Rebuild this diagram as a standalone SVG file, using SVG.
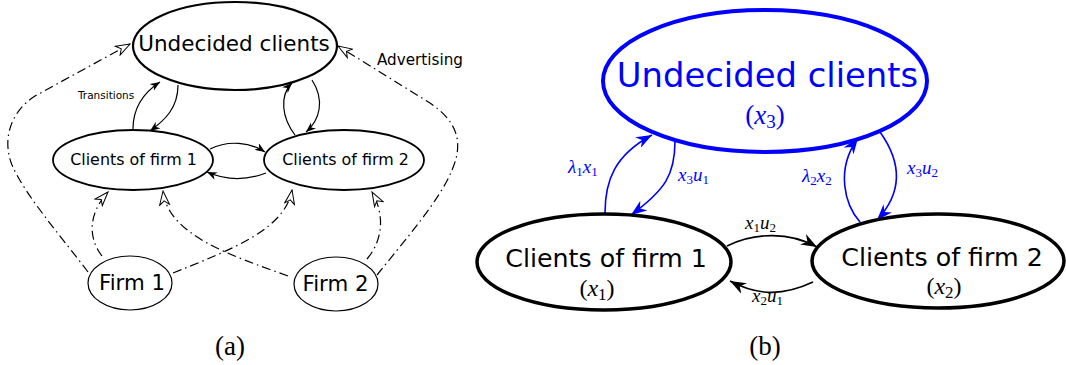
<svg xmlns="http://www.w3.org/2000/svg" width="1066" height="365" viewBox="0 0 1066 365">
<style>
.sans{font-family:"DejaVu Sans","Liberation Sans",sans-serif;fill:#000}
.ser{font-family:"Liberation Serif","DejaVu Serif",serif;fill:#000}
.i{font-style:italic}
.blue{fill:#0000ff}
.nodeA{fill:#fff;stroke:#000}
.conA{fill:none;stroke:#000;stroke-width:1.2}
.adv{fill:none;stroke:#000;stroke-width:1.2;stroke-dasharray:9 4 1.5 4}
.conB{fill:none;stroke:#000;stroke-width:1.6}
.conBb{fill:none;stroke:#0000ff;stroke-width:1.6}
.lbl{font-size:19px}
.sb{font-size:13px}
</style>
<defs>
<marker id="smallA" viewBox="0 0 10 8" refX="10" refY="4" markerWidth="10" markerHeight="8" markerUnits="userSpaceOnUse" orient="auto">
<path d="M10,4 L0,0 L3,4 L0,8 Z" fill="#000"/>
</marker>
<marker id="openA" viewBox="-1 -1 16 12" refX="14" refY="5" markerWidth="16" markerHeight="12" markerUnits="userSpaceOnUse" orient="auto">
<path d="M14,5 L0,0 L4,5 L0,10 Z" fill="#fff" stroke="#000" stroke-width="1"/>
</marker>
<marker id="stB" viewBox="0 0 16 12" refX="16" refY="6" markerWidth="16" markerHeight="12" markerUnits="userSpaceOnUse" orient="auto">
<path d="M16,6 L0,0 L5,6 L0,12 Z" fill="#000"/>
</marker>
<marker id="stBlue" viewBox="0 0 16 12" refX="16" refY="6" markerWidth="16" markerHeight="12" markerUnits="userSpaceOnUse" orient="auto">
<path d="M16,6 L0,0 L5,6 L0,12 Z" fill="#0000ff"/>
</marker>
</defs>

<g id="connectors">
<!-- panel (a) transitions -->
<path class="conA" d="M133,129 C133,108 143,93 160,82" marker-end="url(#smallA)"/>
<path class="conA" d="M178,85 C178,108 165,120 150,131" marker-end="url(#smallA)"/>
<path class="conA" d="M295,135 C282,118 279,96 292,83" marker-end="url(#smallA)"/>
<path class="conA" d="M312,80 C325,100 320,120 306,132" marker-end="url(#smallA)"/>
<path class="conA" d="M210,149 C228,140 250,142 265,152" marker-end="url(#smallA)"/>
<path class="conA" d="M266,173 C245,181 225,180 207,172" marker-end="url(#smallA)"/>
<!-- panel (a) advertising -->
<path class="adv" d="M88,272 C60,235 25,195 12,165 C2,140 10,112 35,96 L130,44" marker-end="url(#openA)"/>
<path class="adv" d="M377,275 C405,240 440,200 452,170 C465,140 455,120 430,103 L338,46" marker-end="url(#openA)"/>
<path class="adv" d="M102,256 C88,238 88,214 108,192" marker-end="url(#openA)"/>
<path class="adv" d="M173,273 C230,250 285,230 292,190" marker-end="url(#openA)"/>
<path class="adv" d="M288,276 C230,255 168,235 163,191" marker-end="url(#openA)"/>
<path class="adv" d="M367,259 C383,240 385,215 372,192" marker-end="url(#openA)"/>
<!-- panel (b) -->
<path class="conBb" d="M605,213 C605,180 615,155 652,135" marker-end="url(#stBlue)"/>
<path class="conBb" d="M675,141 C675,175 665,190 631,215" marker-end="url(#stBlue)"/>
<path class="conBb" d="M860,222 C845,205 835,170 858,138" marker-end="url(#stBlue)"/>
<path class="conBb" d="M880,132 C900,160 905,190 877,220" marker-end="url(#stBlue)"/>
<path class="conB" d="M727,246 C755,232 790,232 817,247" marker-end="url(#stB)"/>
<path class="conB" d="M813,282 C785,295 760,297 730,281" marker-end="url(#stB)"/>
</g>

<g id="undecidedA">
<ellipse class="nodeA" cx="235" cy="46" rx="102" ry="44" stroke-width="2.2"/>
<text class="sans" x="234" y="51" font-size="21.5" text-anchor="middle">Undecided clients</text>
</g>
<g id="clients1A">
<ellipse class="nodeA" cx="133" cy="160" rx="80" ry="30" stroke-width="1.8"/>
<text class="sans" x="133.5" y="165" font-size="15.9" text-anchor="middle">Clients of firm 1</text>
</g>
<g id="clients2A">
<ellipse class="nodeA" cx="344" cy="160" rx="80" ry="30" stroke-width="1.8"/>
<text class="sans" x="345.5" y="165" font-size="15.9" text-anchor="middle">Clients of firm 2</text>
</g>
<g id="firm1A">
<ellipse class="nodeA" cx="130" cy="283" rx="42" ry="27" stroke-width="1.2"/>
<text class="sans" x="132" y="290" font-size="21.3" text-anchor="middle">Firm 1</text>
</g>
<g id="firm2A">
<ellipse class="nodeA" cx="336" cy="284" rx="42" ry="27" stroke-width="1.2"/>
<text class="sans" x="335.5" y="291" font-size="21.3" text-anchor="middle">Firm 2</text>
</g>
<g id="labelsA">
<text class="sans" x="377" y="65" font-size="15.2">Advertising</text>
<text class="sans" x="78" y="99" font-size="10.5">Transitions</text>
<text class="ser" x="230" y="355" font-size="27" text-anchor="middle">(a)</text>
</g>

<g id="undecidedB">
<ellipse cx="765" cy="81" rx="162" ry="71" fill="#fff" stroke="#0000ff" stroke-width="4"/>
<text class="sans blue" x="767.5" y="87" font-size="33.8" text-anchor="middle">Undecided clients</text>
<text class="ser blue" x="765" y="124" font-size="27" text-anchor="middle">(<tspan class="i">x</tspan><tspan dy="4" font-size="19">3</tspan><tspan dy="-4">)</tspan></text>
</g>
<g id="clients1B">
<ellipse cx="604" cy="262" rx="127" ry="48" fill="#fff" stroke="#000" stroke-width="3.5"/>
<text class="sans" x="606" y="267" font-size="25.3" text-anchor="middle">Clients of firm 1</text>
<text class="ser" x="597" y="296" font-size="24" text-anchor="middle">(<tspan class="i">x</tspan><tspan dy="4" font-size="17">1</tspan><tspan dy="-4">)</tspan></text>
</g>
<g id="clients2B">
<ellipse cx="938" cy="261" rx="126" ry="47" fill="#fff" stroke="#000" stroke-width="3.5"/>
<text class="sans" x="942" y="266" font-size="25.3" text-anchor="middle">Clients of firm 2</text>
<text class="ser" x="944" y="294" font-size="24" text-anchor="middle">(<tspan class="i">x</tspan><tspan dy="4" font-size="17">2</tspan><tspan dy="-4">)</tspan></text>
</g>
<g id="labelsB">
<text class="ser blue lbl" x="568" y="173"><tspan class="i">λ</tspan><tspan dy="3" class="sb">1</tspan><tspan class="i" dy="-3">x</tspan><tspan dy="3" class="sb">1</tspan></text>
<text class="ser blue lbl" x="678" y="181"><tspan class="i">x</tspan><tspan dy="3" class="sb">3</tspan><tspan class="i" dy="-3">u</tspan><tspan dy="3" class="sb">1</tspan></text>
<text class="ser blue lbl" x="802" y="182"><tspan class="i">λ</tspan><tspan dy="3" class="sb">2</tspan><tspan class="i" dy="-3">x</tspan><tspan dy="3" class="sb">2</tspan></text>
<text class="ser blue lbl" x="907" y="174"><tspan class="i">x</tspan><tspan dy="3" class="sb">3</tspan><tspan class="i" dy="-3">u</tspan><tspan dy="3" class="sb">2</tspan></text>
<text class="ser lbl" x="745" y="229"><tspan class="i">x</tspan><tspan dy="3" class="sb">1</tspan><tspan class="i" dy="-3">u</tspan><tspan dy="3" class="sb">2</tspan></text>
<text class="ser lbl" x="752" y="302"><tspan class="i">x</tspan><tspan dy="3" class="sb">2</tspan><tspan class="i" dy="-3">u</tspan><tspan dy="3" class="sb">1</tspan></text>
<text class="ser" x="765" y="355" font-size="27" text-anchor="middle">(b)</text>
</g>
</svg>
